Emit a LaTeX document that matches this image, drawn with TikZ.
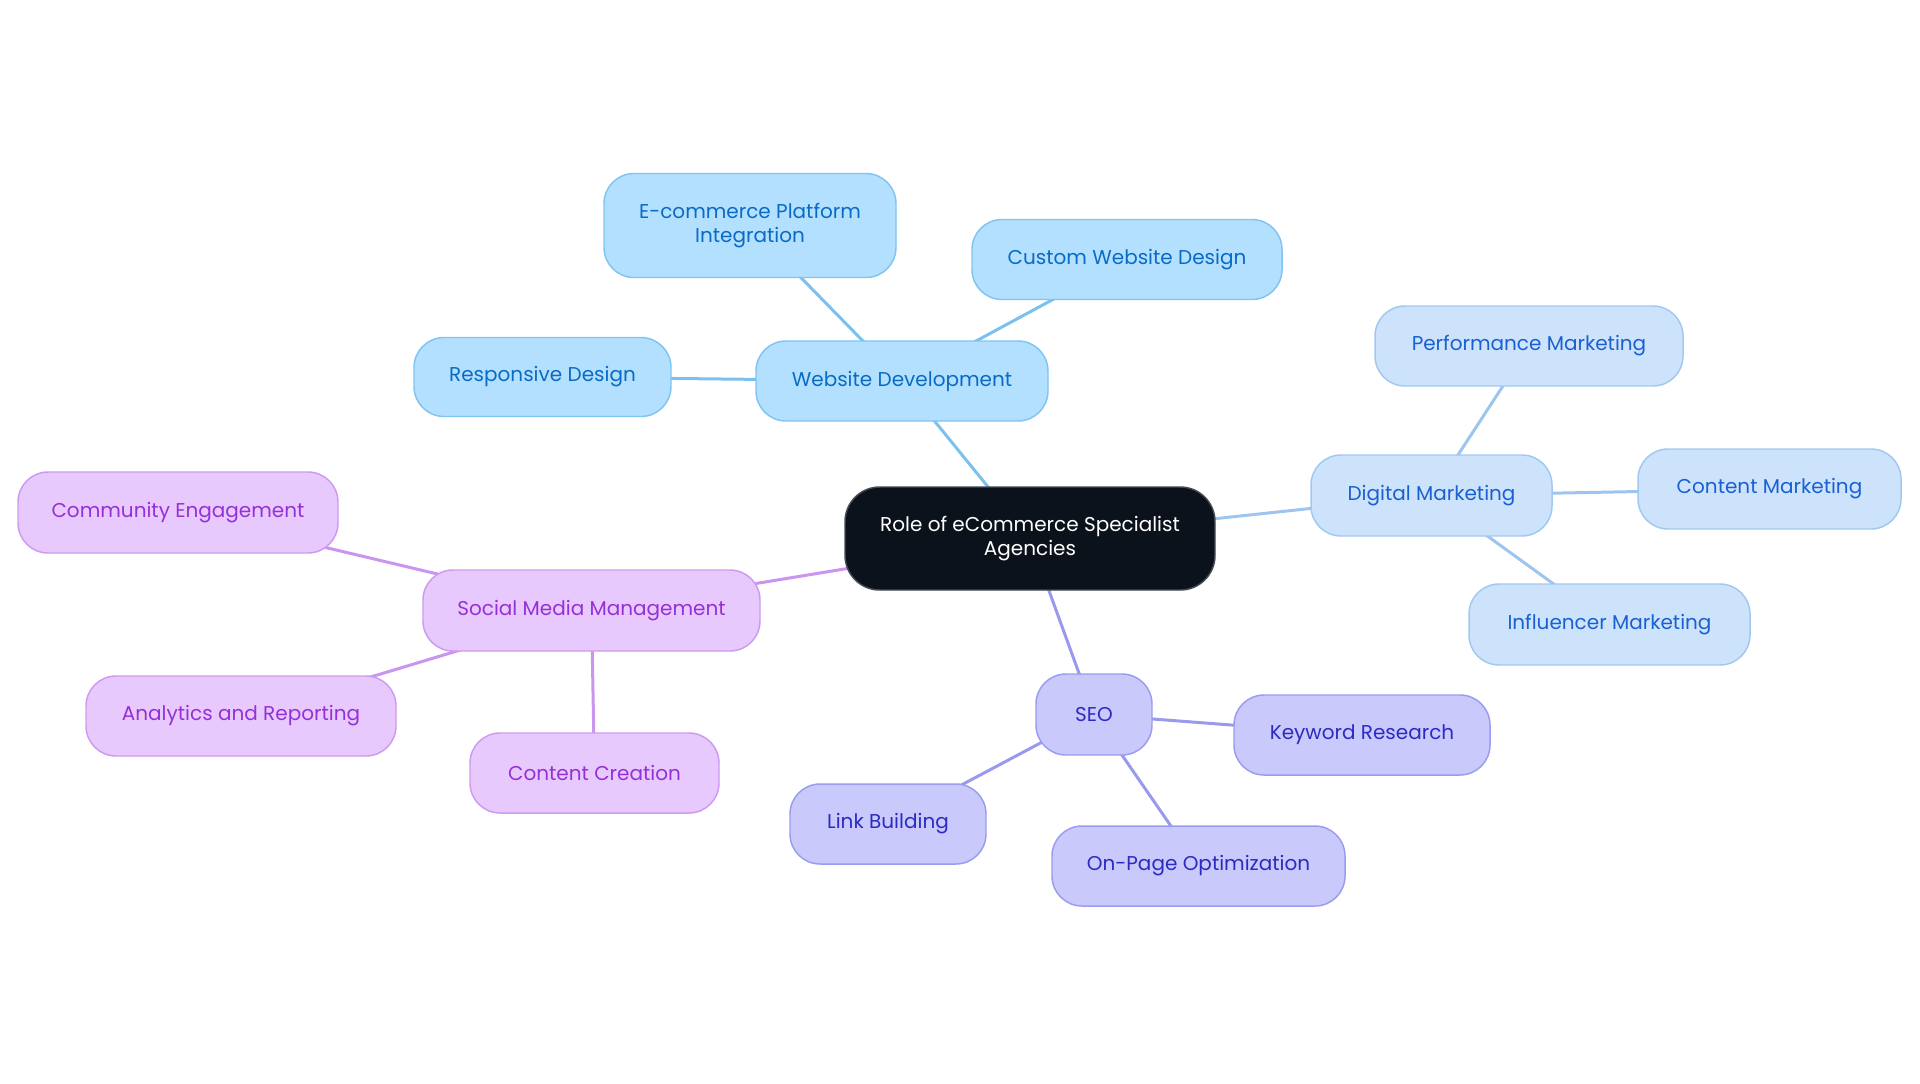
\documentclass[tikz,border=0pt]{standalone}
\usepackage{fontspec}
\setmainfont{Poppins}
\usetikzlibrary{backgrounds}
\definecolor{wdfill}{HTML}{B3E0FF}
\definecolor{wddraw}{HTML}{80C4F2}
\definecolor{wdtext}{HTML}{0A6BC4}
\definecolor{wdline}{HTML}{7CC0EE}
\definecolor{dmfill}{HTML}{CCE3FB}
\definecolor{dmdraw}{HTML}{A2C7F1}
\definecolor{dmtext}{HTML}{1A60D2}
\definecolor{dmline}{HTML}{9EC5F0}
\definecolor{seofill}{HTML}{C9C9FC}
\definecolor{seodraw}{HTML}{9B9BF0}
\definecolor{seotext}{HTML}{2B2BC4}
\definecolor{seoline}{HTML}{9999EE}
\definecolor{smfill}{HTML}{E8C9FD}
\definecolor{smdraw}{HTML}{CE9AF0}
\definecolor{smtext}{HTML}{9530D8}
\definecolor{smline}{HTML}{C995EE}
\definecolor{rootfill}{HTML}{0C121C}
\definecolor{rootdraw}{HTML}{454B55}
\tikzset{
  box/.style={rectangle, rounded corners=22.5pt, line width=1.1pt, inner sep=0pt,
    align=center, font=\fontsize{15}{18}\selectfont},
  wdbox/.style={box, fill=wdfill, draw=wddraw, text=wdtext},
  dmbox/.style={box, fill=dmfill, draw=dmdraw, text=dmtext},
  seobox/.style={box, fill=seofill, draw=seodraw, text=seotext},
  smbox/.style={box, fill=smfill, draw=smdraw, text=smtext},
  rootbox/.style={box, fill=rootfill, draw=rootdraw, text=white, rounded corners=26pt},
  link/.style={line width=2.25pt},
}
\begin{document}
\begin{tikzpicture}[x=0.75pt,y=-0.75pt]
\useasboundingbox (0,0) rectangle (1920,1083);
\node[rootbox, minimum width=370*0.75pt, minimum height=103*0.75pt] (root) at (1030,538.5) {Role of eCommerce Specialist\\Agencies};
% Website development branch
\node[wdbox, minimum width=292*0.75pt, minimum height=80*0.75pt] (wd) at (902,381) {Website Development};
\node[wdbox, minimum width=292*0.75pt, minimum height=104*0.75pt] (eci) at (750,225.5) {E-commerce Platform\\Integration};
\node[wdbox, minimum width=310*0.75pt, minimum height=80*0.75pt] (cwd) at (1127,259.5) {Custom Website Design};
\node[wdbox, minimum width=257*0.75pt, minimum height=79*0.75pt] (rd) at (542.5,377) {Responsive Design};
% Digital marketing branch
\node[dmbox, minimum width=241*0.75pt, minimum height=81*0.75pt] (dm) at (1431.5,495.5) {Digital Marketing};
\node[dmbox, minimum width=308*0.75pt, minimum height=80*0.75pt] (pm) at (1529,346) {Performance Marketing};
\node[dmbox, minimum width=263*0.75pt, minimum height=80*0.75pt] (cm) at (1769.5,489) {Content Marketing};
\node[dmbox, minimum width=281*0.75pt, minimum height=81*0.75pt] (im) at (1609.5,624.5) {Influencer Marketing};
% SEO branch
\node[seobox, minimum width=116*0.75pt, minimum height=81*0.75pt] (seo) at (1094,714.5) {SEO};
\node[seobox, minimum width=256*0.75pt, minimum height=80*0.75pt] (kr) at (1362,735) {Keyword Research};
\node[seobox, minimum width=293*0.75pt, minimum height=80*0.75pt] (op) at (1198.5,866) {On-Page Optimization};
\node[seobox, minimum width=196*0.75pt, minimum height=80*0.75pt] (lb) at (888,824) {Link Building};
% Social media branch
\node[smbox, minimum width=337*0.75pt, minimum height=81*0.75pt] (smm) at (591.5,610.5) {Social Media Management};
\node[smbox, minimum width=320*0.75pt, minimum height=81*0.75pt] (ce) at (178,512.5) {Community Engagement};
\node[smbox, minimum width=310*0.75pt, minimum height=80*0.75pt] (ar) at (241,716) {Analytics and Reporting};
\node[smbox, minimum width=249*0.75pt, minimum height=80*0.75pt] (cc) at (594.5,773) {Content Creation};
\begin{scope}[on background layer]
\draw[link, wdline] (root.center) -- (wd.center);
\draw[link, wdline] (wd.center) -- (eci.center);
\draw[link, wdline] (wd.center) -- (cwd.center);
\draw[link, wdline] (wd.center) -- (rd.center);
\draw[link, dmline] (root.center) -- (dm.center);
\draw[link, dmline] (dm.center) -- (pm.center);
\draw[link, dmline] (dm.center) -- (cm.center);
\draw[link, dmline] (dm.center) -- (im.center);
\draw[link, seoline] (root.center) -- (seo.center);
\draw[link, seoline] (seo.center) -- (kr.center);
\draw[link, seoline] (seo.center) -- (op.center);
\draw[link, seoline] (seo.center) -- (lb.center);
\draw[link, smline] (root.center) -- (smm.center);
\draw[link, smline] (smm.center) -- (ce.center);
\draw[link, smline] (smm.center) -- (ar.center);
\draw[link, smline] (smm.center) -- (cc.center);
\end{scope}
\end{tikzpicture}
\end{document}
